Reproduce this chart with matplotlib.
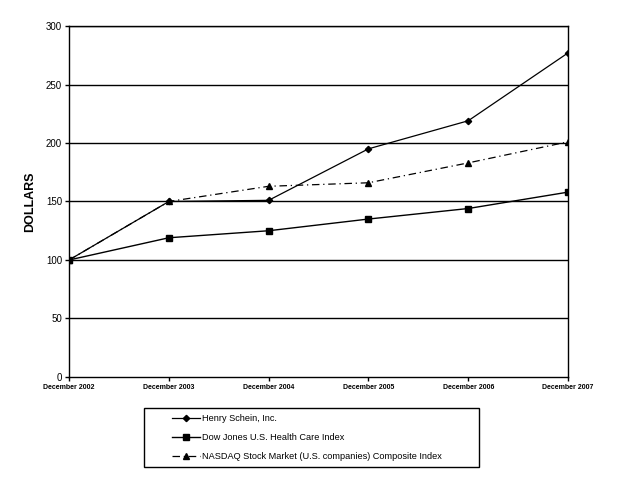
import matplotlib
matplotlib.use('Agg')
import matplotlib.pyplot as plt
from matplotlib.patches import Rectangle

plt.rcParams['font.family'] = ['Liberation Sans', 'DejaVu Sans']

years = ['December 2002', 'December 2003', 'December 2004',
         'December 2005', 'December 2006', 'December 2007']
henrySchein = [100, 150, 151, 195, 219, 277]
dowJones = [100, 119, 125, 135, 144, 158]
nasdaq = [100, 150, 163, 166, 183, 201]
yTicks = [0, 50, 100, 150, 200, 250, 300]


def main() -> None:
    fig = plt.figure(figsize=(6.38, 4.87), dpi=100)
    ax = fig.add_axes([0.1082, 0.2259, 0.7821, 0.7207])

    x = list(range(len(years)))

    for t in yTicks[1:]:
        ax.axhline(t, color='black', linewidth=1.0, zorder=1)

    ax.plot(x, henrySchein, color='black', linewidth=0.9, marker='D', markersize=3.2,
            label='Henry Schein, Inc.', zorder=3)
    ax.plot(x, dowJones, color='black', linewidth=1.0, marker='s', markersize=4.5,
            label='Dow Jones U.S. Health Care Index', zorder=3)
    ax.plot(x, nasdaq, color='black', linewidth=0.9, marker='^', markersize=4,
            linestyle=(0, (6, 3, 1, 3)), label='NASDAQ Stock Market (U.S. companies) Composite Index',
            zorder=3)

    ax.set_xlim(0, len(years) - 1)
    ax.set_ylim(0, 300)
    ax.set_xticks(x)
    ax.set_xticklabels(years, fontsize=5, fontweight='bold')
    ax.set_yticks(yTicks)
    ax.set_yticklabels([str(t) for t in yTicks], fontsize=7)
    ax.tick_params(axis='both', direction='out', length=3, width=1, color='black', pad=2)
    for spine in ax.spines.values():
        spine.set_linewidth(1.0)
        spine.set_color('black')

    ax.set_ylabel('DOLLARS', fontsize=9, fontweight='bold', labelpad=7)

    # legend box drawn separately so the entries can sit indented inside it
    fig.patches.append(Rectangle((144 / 638, 1 - 467 / 487), 335 / 638, 59 / 487,
                                 transform=fig.transFigure, fill=False,
                                 edgecolor='black', linewidth=1.0))
    fig.legend(loc='upper left', bbox_to_anchor=(172 / 638, 1 - 414 / 487), fontsize=6.6,
               frameon=False, handlelength=3.0, borderpad=0.0, borderaxespad=0.0,
               labelspacing=1.08, handletextpad=0.3)

    fig.savefig('out.png', dpi=100)


if __name__ == '__main__':
    main()
